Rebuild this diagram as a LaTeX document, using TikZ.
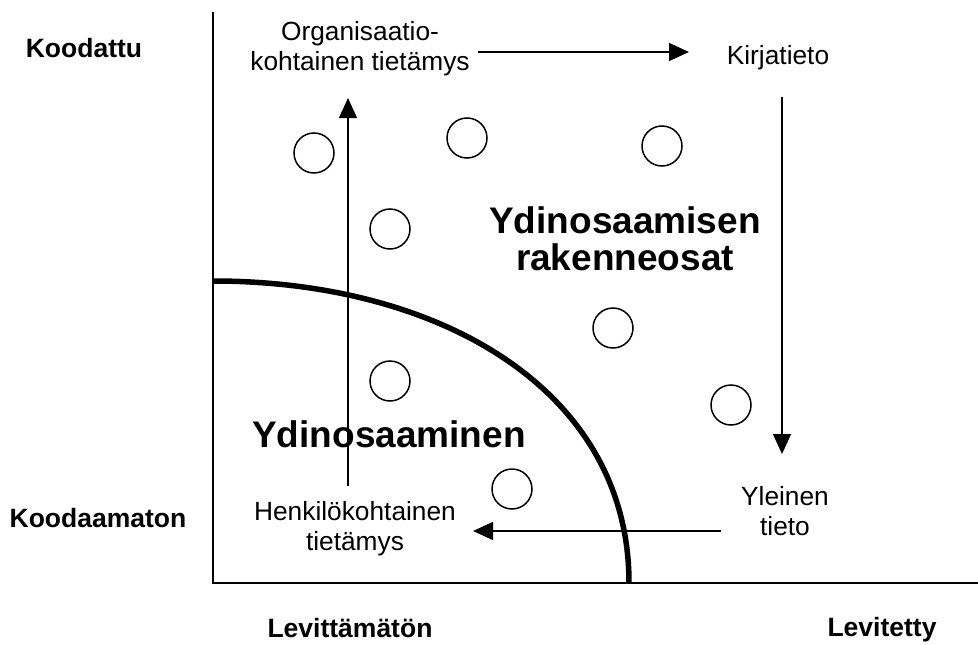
\documentclass[tikz,border=0pt]{standalone}
\usepackage{fontspec}
\setmainfont{Liberation Sans}
\usetikzlibrary{arrows.meta}
\begin{document}
\begin{tikzpicture}[x=1pt,y=-1pt,
  axis/.style={line width=2pt},
  core/.style={line width=5.5pt},
  flow/.style={line width=1.3pt,-{Triangle[length=20pt,width=18pt]}},
  part/.style={circle,draw,line width=1.5pt,minimum size=40pt,inner sep=0pt},
  lbl/.style={font=\fontsize{26.3}{30.5}\selectfont,inner sep=0pt,anchor=base},
  axlbl/.style={font=\bfseries\fontsize{26.5}{30}\selectfont,inner sep=0pt,anchor=base},
  big/.style={font=\bfseries\fontsize{37}{37}\selectfont,inner sep=0pt,anchor=base},
]
\useasboundingbox (0,0) rectangle (978,645);

% axes
\coordinate (top) at (213,12);
\coordinate (origin) at (213,583);
\coordinate (right) at (978,583);
\draw[axis] (top) -- (origin) -- (right);

% axis labels
\node[axlbl] (coded) at (84,57) {Koodattu};
\node[axlbl] (uncoded) at (98,527) {Koodaamaton};
\node[axlbl] (undiff) at (350,637) {Levittämätön};
\node[axlbl] (diff) at (882,636) {Levitetty};

% boundary of the core competence
\coordinate (cs) at (213,281);
\coordinate (ce) at (629,583);
\draw[core] (cs) .. controls (440,281) and (629,390) .. (ce);

% knowledge labels
\node[lbl] (org) at (360,40) {\begin{tabular}[t]{@{}c@{}}Organisaatio-\\kohtainen tietämys\end{tabular}};
\node[lbl] (book) at (778,64) {Kirjatieto};
\node[lbl] (general) at (785,505) {\begin{tabular}[t]{@{}c@{}}Yleinen\\tieto\end{tabular}};
\node[lbl] (personal) at (355,520) {\begin{tabular}[t]{@{}c@{}}Henkilökohtainen\\tietämys\end{tabular}};

% region titles
\node[big] (parts) at (625,233) {\begin{tabular}[t]{@{}c@{}}Ydinosaamisen\\rakenneosat\end{tabular}};
\node[big] (corelbl) at (389,447) {Ydinosaaminen};

% knowledge cycle
\coordinate (upS) at (348,486);
\coordinate (upE) at (348,98);
\coordinate (rtS) at (478,52);
\coordinate (rtE) at (689,52);
\coordinate (dnS) at (782,97);
\coordinate (dnE) at (782,454);
\coordinate (lfS) at (721,531);
\coordinate (lfE) at (473,531);
\draw[flow] (upS) -- (upE);
\draw[flow] (rtS) -- (rtE);
\draw[flow] (dnS) -- (dnE);
\draw[flow] (lfS) -- (lfE);

% components
\node[part] (p1) at (314,153) {};
\node[part] (p2) at (467,138) {};
\node[part] (p3) at (662,146) {};
\node[part] (p4) at (390,229) {};
\node[part] (p5) at (613,328) {};
\node[part] (p6) at (390,381) {};
\node[part] (p7) at (731,405) {};
\node[part] (p8) at (512,489) {};
\end{tikzpicture}
\end{document}
